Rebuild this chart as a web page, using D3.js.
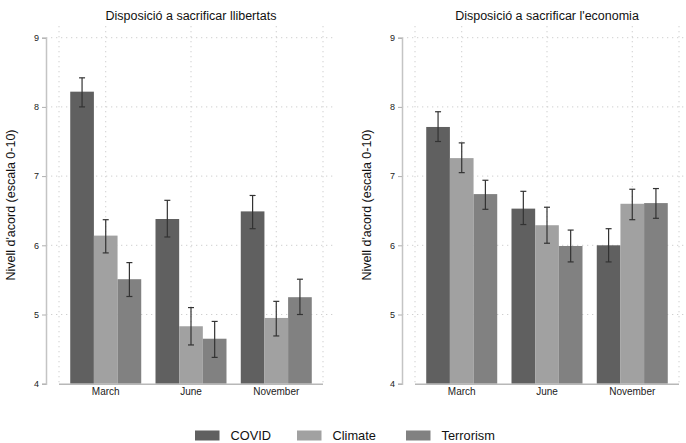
<!DOCTYPE html>
<html><head><meta charset="utf-8">
<script src="https://cdn.jsdelivr.net/npm/d3@7"></script>
<style>body{margin:0;background:#fff}svg{display:block}text{font-family:"Liberation Sans",Arial,sans-serif}</style>
</head><body><svg id="c" width="686" height="443"></svg>
<script>
const categories = ["March", "June", "November"];
const series = ["COVID", "Climate", "Terrorism"];
const yTicks = [4, 5, 6, 7, 8, 9];
const titles = ["Disposició a sacrificar llibertats", "Disposició a sacrificar l'economia"];
const yLabel = "Nivell d'acord (escala 0-10)";
const colors = ["#606060", "#a1a1a1", "#818181"];
// Panel 1: llibertats  [category][series]
const libMean = [[8.22, 6.14, 5.51], [6.38, 4.83, 4.65], [6.49, 4.95, 5.25]];
const libLow  = [[8.00, 5.89, 5.26], [6.12, 4.56, 4.38], [6.24, 4.69, 5.00]];
const libHigh = [[8.42, 6.37, 5.75], [6.65, 5.10, 4.90], [6.72, 5.19, 5.51]];
// Panel 2: economia
const ecoMean = [[7.71, 7.26, 6.74], [6.53, 6.29, 5.99], [6.00, 6.60, 6.61]];
const ecoLow  = [[7.50, 7.05, 6.52], [6.30, 6.03, 5.76], [5.76, 6.37, 6.39]];
const ecoHigh = [[7.93, 7.48, 6.94], [6.78, 6.55, 6.22], [6.24, 6.81, 6.82]];

const svg = d3.select("#c");
const panels = [
  {x0: 59, title: titles[0], mean: libMean, low: libLow, high: libHigh, right: 336},
  {x0: 415, title: titles[1], mean: ecoMean, low: ecoLow, high: ecoHigh, right: 686}
];
const y = d3.scaleLinear().domain([4, 9]).range([383.7, 37.7]);

panels.forEach(p => {
  const g = svg.append("g");
  const axisX = p.x0 - 13;
  const xP = d3.scalePoint().domain(categories).range([p.x0, p.x0 + 264]).padding(0.548);
  const xS = d3.scaleBand().domain(series).range([-35.5, 35.5]);
  // horizontal grid
  g.selectAll(".hg").data(yTicks.slice(1)).join("line")
    .attr("x1", axisX).attr("x2", p.right).attr("y1", d => y(d)).attr("y2", d => y(d))
    .attr("stroke", "#cfcfcf").attr("stroke-width", 1).attr("stroke-dasharray", "1.3,3.7");
  // vertical grid
  const vx = [p.x0].concat(categories.map(c => xP(c))).concat([p.x0 + 264]);
  g.selectAll(".vg").data(vx).join("line")
    .attr("x1", d => d).attr("x2", d => d).attr("y1", 26).attr("y2", y(4))
    .attr("stroke", "#cfcfcf").attr("stroke-width", 1).attr("stroke-dasharray", "1.3,3.7");
  // bars
  categories.forEach((c, i) => {
    series.forEach((s, j) => {
      const bx = xP(c) + xS(s);
      g.append("rect").attr("x", bx).attr("width", xS.bandwidth())
        .attr("y", y(p.mean[i][j])).attr("height", y(4) - y(p.mean[i][j]))
        .attr("fill", colors[j]);
    });
  });
  // error bars
  categories.forEach((c, i) => {
    series.forEach((s, j) => {
      const cx = xP(c) + xS(s) + xS.bandwidth() / 2;
      const eg = g.append("g").attr("stroke", "#333").attr("stroke-width", 1.2);
      eg.append("line").attr("x1", cx).attr("x2", cx).attr("y1", y(p.low[i][j])).attr("y2", y(p.high[i][j]));
      eg.append("line").attr("x1", cx - 3).attr("x2", cx + 3).attr("y1", y(p.low[i][j])).attr("y2", y(p.low[i][j]));
      eg.append("line").attr("x1", cx - 3).attr("x2", cx + 3).attr("y1", y(p.high[i][j])).attr("y2", y(p.high[i][j]));
    });
  });
  // x axis line
  g.append("line").attr("x1", p.x0).attr("x2", p.x0 + 264).attr("y1", y(4) + 0.5).attr("y2", y(4) + 0.5)
    .attr("stroke", "#b8b8b8").attr("stroke-width", 1.5);
  // category labels
  g.selectAll(".cl").data(categories).join("text")
    .attr("x", d => xP(d)).attr("y", 394.5).attr("text-anchor", "middle")
    .attr("font-size", 10).attr("fill", "#222").text(d => d);
  // y axis
  const ya = d3.axisLeft(y).tickValues(yTicks).tickSize(4).tickPadding(3).tickFormat(d3.format("d"));
  const ag = g.append("g").attr("transform", `translate(${axisX},0)`).call(ya);
  ag.select(".domain").attr("stroke", "#c4c4c4").attr("stroke-width", 1.5);
  ag.selectAll(".tick line").attr("stroke", "#b0b0b0");
  ag.selectAll(".tick text").attr("font-size", 9).attr("fill", "#222")
    .attr("font-family", '"Liberation Sans",Arial,sans-serif');
  // y label
  g.append("text").attr("transform", `translate(${axisX - 31},${205}) rotate(-90)`)
    .attr("text-anchor", "middle").attr("font-size", 12.5).attr("fill", "#111").text(yLabel);
  // title
  g.append("text").attr("x", xP(categories[1])).attr("y", 19.5).attr("text-anchor", "middle")
    .attr("font-size", 12.5).attr("fill", "#111").text(p.title);
});

// legend
const legX = [195, 297, 406];
const lg = svg.append("g");
series.forEach((s, j) => {
  lg.append("rect").attr("x", legX[j]).attr("y", 430.5).attr("width", 24.5).attr("height", 10).attr("fill", colors[j]);
  lg.append("text").attr("x", legX[j] + 35.5).attr("y", 439.5).attr("font-size", 12.8).attr("fill", "#111").text(s);
});
</script></body></html>
